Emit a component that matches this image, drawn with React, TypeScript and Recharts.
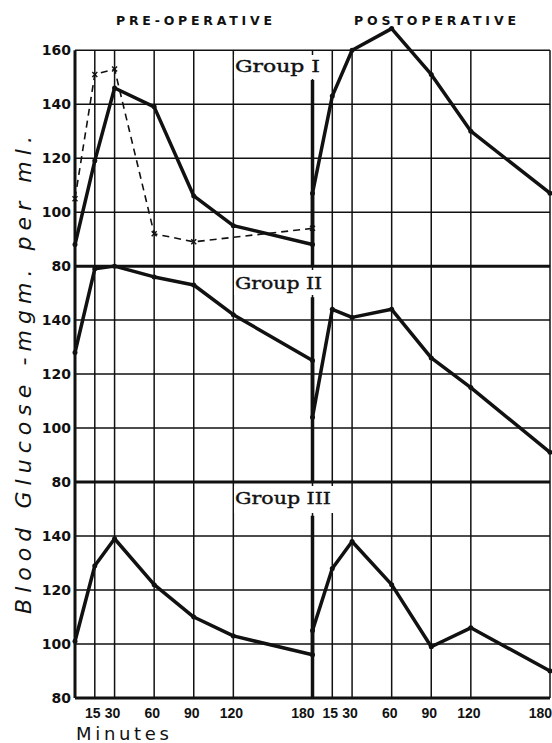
import { LineChart, Line, XAxis, YAxis, ReferenceLine } from 'recharts';

// sampling times (minutes) for both halves
const minutes = [0, 15, 30, 60, 90, 120, 180];

const groupIPre = [88, 119, 146, 139, 106, 95, 88];
const groupIPost = [107, 143, 160, 168, 151, 130, 107];
const groupIIPre = [128, 159, 160, 156, 153, 142, 125];
const groupIIPost = [104, 144, 141, 144, 126, 115, 91];
const groupIIIPre = [101, 129, 139, 122, 110, 103, 96];
const groupIIIPost = [105, 128, 138, 122, 99, 106, 90];

// dashed curve in Group I
const controlMinutes = [0, 15, 30, 60, 90, 180];
const controlValues = [105, 151, 153, 92, 89, 94];

const xTicks = [15, 30, 60, 90, 120, 180, 195, 210, 240, 270, 300, 360];
const xTickLabels = ['15', '30', '60', '90', '120', '180', '15', '30', '60', '90', '120', '180'];

// three panels stacked on one axis, each panel is 80 units tall
const yTicks = [80, 100, 120, 140, 160, 180, 200, 220, 240, 260, 280, 300, 320];
const yTickLabels = ['80', '100', '120', '140', '80', '100', '120', '140', '80', '100', '120', '140', '160'];
const panelOffsets = [160, 80, 0];
const panelBottoms = [80, 160, 240];

const INK = '#111';

const toSeries = (pre: number[], post: number[], offset: number) => [
    ...pre.map((v, i) => ({ t: minutes[i], v: v + offset })),
    ...post.map((v, i) => ({ t: 180 + minutes[i], v: v + offset })),
];

const groupIData = toSeries(groupIPre, groupIPost, panelOffsets[0]);
const groupIIData = toSeries(groupIIPre, groupIIPost, panelOffsets[1]);
const groupIIIData = toSeries(groupIIIPre, groupIIIPost, panelOffsets[2]);
const controlData = controlMinutes.map((t, i) => ({ t, v: controlValues[i] + panelOffsets[0] }));

const XTick = ({ x, payload }: any) => {
    const i = xTicks.indexOf(payload.value);
    const isEnd = payload.value === 180 || payload.value === 360;
    return (
        <text
            x={isEnd ? x + 2 : x - 2}
            y={718}
            textAnchor={isEnd ? 'end' : 'middle'}
            fontFamily="'Liberation Sans', Arial, sans-serif"
            fontWeight="bold"
            fontSize={14}
            fill={INK}
        >
            {xTickLabels[i]}
        </text>
    );
};

const YTick = ({ y, payload }: any) => {
    const i = yTicks.indexOf(payload.value);
    return (
        <text
            x={71}
            y={y}
            textAnchor="end"
            dominantBaseline="central"
            fontFamily="'DejaVu Sans', sans-serif"
            fontWeight="bold"
            fontSize={14}
            fill={INK}
        >
            {yTickLabels[i]}
        </text>
    );
};

const XMark = (props: any) => {
    const { cx, cy, index } = props;
    if (cx == null || cy == null) return <g key={index} />;
    const s = 2.5;
    return (
        <path
            key={index}
            d={`M${cx - s},${cy - s}L${cx + s},${cy + s}M${cx - s},${cy + s}L${cx + s},${cy - s}`}
            stroke={INK}
            strokeWidth={1.4}
        />
    );
};

const groupLabel = {
    fontFamily: "'DejaVu Serif', serif",
    fontSize: 17,
    fill: INK,
    stroke: INK,
    strokeWidth: 0.4,
};

export default function App() {
    return (
        <div style={{ position: 'absolute', left: 0, top: 0, width: 552, height: 743, background: '#fff' }}>
            <LineChart width={552} height={743} margin={{ top: 7, right: 2, bottom: 0, left: 0 }}>
                <XAxis
                    type="number"
                    dataKey="t"
                    domain={[0, 360]}
                    ticks={xTicks}
                    tick={<XTick />}
                    axisLine={false}
                    tickLine={false}
                    height={45}
                    interval={0}
                />
                <YAxis
                    type="number"
                    domain={[80, 336]}
                    ticks={yTicks}
                    tick={<YTick />}
                    axisLine={false}
                    tickLine={false}
                    width={75}
                    interval={0}
                />

                {/* horizontal grid */}
                {yTicks.map((v) => (
                    <ReferenceLine
                        key={`h${v}`}
                        segment={[{ x: 0, y: v }, { x: 360, y: v }]}
                        stroke={INK}
                        strokeWidth={panelBottoms.includes(v) ? 3 : 1.5}
                        ifOverflow="visible"
                    />
                ))}
                {/* vertical grid */}
                {[0, ...xTicks].map((t) => (
                    <ReferenceLine
                        key={`v${t}`}
                        segment={[{ x: t, y: 80 }, { x: t, y: 320 }]}
                        stroke={INK}
                        strokeWidth={t === 0 ? 3 : 1.5}
                        ifOverflow="visible"
                    />
                ))}
                {/* operation markers */}
                <ReferenceLine segment={[{ x: 180, y: 309 }, { x: 180, y: 240 }]} stroke={INK} strokeWidth={3.5} />
                <ReferenceLine segment={[{ x: 180, y: 228.5 }, { x: 180, y: 160 }]} stroke={INK} strokeWidth={3.5} />
                <ReferenceLine segment={[{ x: 180, y: 147.5 }, { x: 180, y: 80 }]} stroke={INK} strokeWidth={3.5} />

                <Line
                    data={controlData}
                    dataKey="v"
                    stroke={INK}
                    strokeWidth={1.6}
                    strokeDasharray="7 5"
                    dot={XMark}
                    isAnimationActive={false}
                />
                {[groupIData, groupIIData, groupIIIData].map((d, i) => (
                    <Line
                        key={i}
                        data={d}
                        dataKey="v"
                        stroke={INK}
                        strokeWidth={3.5}
                        strokeLinejoin="round"
                        dot={{ r: 2.5, fill: INK, stroke: 'none' }}
                        isAnimationActive={false}
                    />
                ))}
            </LineChart>

            <svg width={552} height={743} style={{ position: 'absolute', left: 0, top: 0, pointerEvents: 'none' }}>
                <g fontFamily="'DejaVu Sans', sans-serif" fill={INK}>
                    <text x={116} y={25} fontSize={12.5} fontWeight="bold" textLength={156} lengthAdjust="spacing">PRE-OPERATIVE</text>
                    <text x={354} y={25} fontSize={12.5} fontWeight="bold" textLength={162} lengthAdjust="spacing">POSTOPERATIVE</text>
                    <text x={76} y={740} fontSize={18} textLength={93} lengthAdjust="spacing">Minutes</text>
                    <text
                        x={0}
                        y={0}
                        fontSize={22}
                        fontStyle="italic"
                        textLength={478}
                        lengthAdjust="spacing"
                        transform="translate(31,614) rotate(-90)"
                    >
                        Blood Glucose -mgm. per ml.
                    </text>
                </g>

                <rect x={234} y={55} width={88} height={24} fill="#fff" />
                <text x={235} y={72} {...groupLabel} textLength={85} lengthAdjust="spacingAndGlyphs">Group I</text>

                <rect x={234} y={270} width={90} height={25} fill="#fff" />
                <text x={235} y={289} {...groupLabel} textLength={87} lengthAdjust="spacingAndGlyphs">Group II</text>

                <rect x={234} y={486} width={101} height={27} fill="#fff" />
                <text x={235} y={504} {...groupLabel} textLength={96} lengthAdjust="spacingAndGlyphs">Group III</text>
            </svg>
        </div>
    );
}
